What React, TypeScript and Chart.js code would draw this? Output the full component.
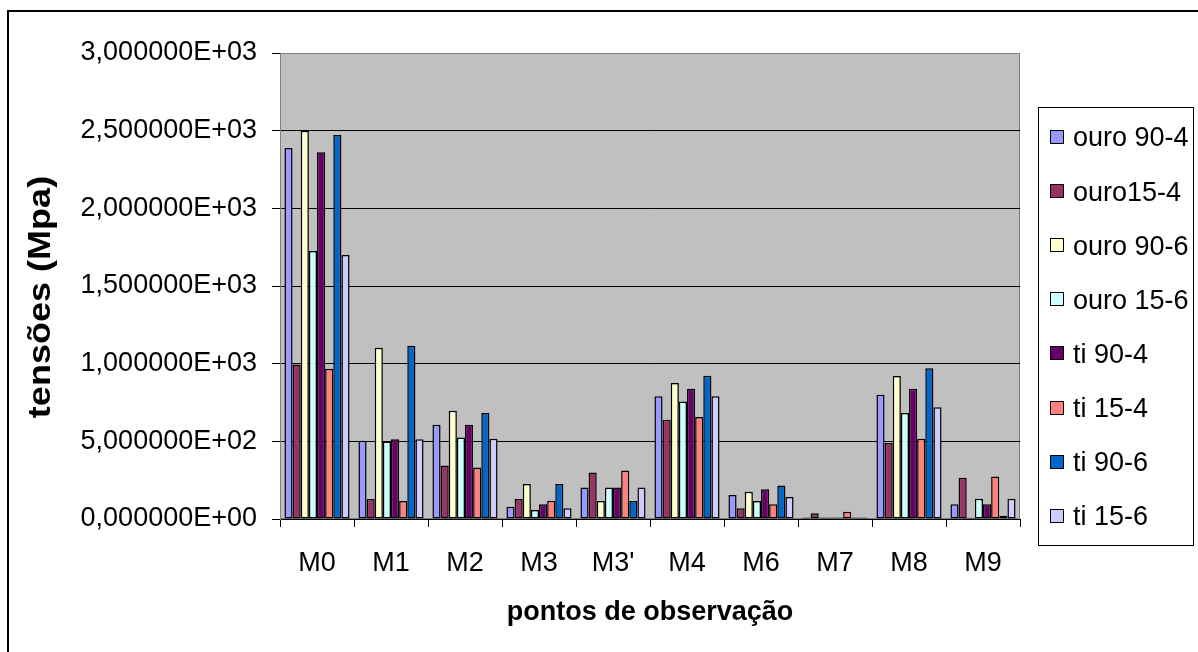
import React, { useEffect, useRef } from "react";
import { Chart, registerables } from "chart.js";

Chart.register(...registerables);

const categories = ["M0", "M1", "M2", "M3", "M3'", "M4", "M6", "M7", "M8", "M9"];

const ouro904 = [2388, 503, 607, 79, 202, 790, 155, 10, 800, 95];
const ouro154 = [994, 129, 344, 129, 299, 639, 69, 37, 489, 265];
const ouro906 = [2500, 1102, 697, 226, 116, 876, 176, 10, 921, 8];
const ouro156 = [1726, 499, 525, 58, 202, 757, 116, 10, 682, 131];
const ti904 = [2361, 514, 607, 95, 202, 839, 191, 10, 839, 95];
const ti154 = [968, 116, 331, 118, 312, 656, 95, 47, 516, 273];
const ti906 = [2472, 1115, 682, 226, 116, 923, 215, 10, 970, 21];
const ti156 = [1700, 514, 516, 69, 202, 790, 142, 10, 719, 131];

const seriesLabels = ["ouro 90-4", "ouro15-4", "ouro 90-6", "ouro 15-6", "ti 90-4", "ti 15-4", "ti 90-6", "ti 15-6"];
const seriesValues = [ouro904, ouro154, ouro906, ouro156, ti904, ti154, ti906, ti156];
const seriesColors = ["#9999FF", "#993366", "#FFFFCC", "#CCFFFF", "#660066", "#FF8080", "#0066CC", "#CCCCFF"];

const yMin = 0;
const yMax = 3000;
const yStep = 500;

const xTitle = "pontos de observação";
const yTitle = "tensões (Mpa)";

const FONT = "'Liberation Sans', Arial, Helvetica, sans-serif";

function sciLabel(v: number): string {
  const s = Number(v).toExponential(6);
  const [mant, exp] = s.split("e");
  const sign = exp.startsWith("-") ? "-" : "+";
  const digits = exp.replace(/[+-]/, "").padStart(2, "0");
  return mant.replace(".", ",") + "E" + sign + digits;
}

const framePlugin = {
  id: "framePlugin",
  beforeDraw(chart: any) {
    const { ctx, chartArea } = chart;
    ctx.save();
    ctx.fillStyle = "#FFFFFF";
    ctx.fillRect(0, 0, chart.width, chart.height);
    // outer frame (top & left visible)
    ctx.strokeStyle = "#000000";
    ctx.lineWidth = 2;
    ctx.beginPath();
    ctx.moveTo(8, chart.height + 5);
    ctx.lineTo(8, 11);
    ctx.lineTo(chart.width + 5, 11);
    ctx.stroke();
    // plot area
    ctx.fillStyle = "#C0C0C0";
    ctx.fillRect(chartArea.left, chartArea.top, chartArea.right - chartArea.left, chartArea.bottom - chartArea.top);
    ctx.strokeStyle = "#808080";
    ctx.lineWidth = 1;
    ctx.strokeRect(chartArea.left + 0.5, chartArea.top + 0.5, chartArea.right - chartArea.left - 1, chartArea.bottom - chartArea.top - 1);
    ctx.restore();
  },
  afterDraw(chart: any) {
    const { ctx } = chart;
    ctx.save();
    // y axis title
    ctx.translate(41, 297);
    ctx.rotate(-Math.PI / 2);
    ctx.scale(1.06, 0.92);
    ctx.font = `bold 34px ${FONT}`;
    ctx.textAlign = "center";
    ctx.textBaseline = "middle";
    ctx.fillStyle = "#000000";
    ctx.fillText(yTitle, 0, 0);
    ctx.restore();

    // legend
    const boxL = 1038, boxT = 107, boxR = 1193, boxB = 545;
    ctx.save();
    ctx.strokeStyle = "#000000";
    ctx.lineWidth = 1;
    ctx.strokeRect(boxL + 0.5, boxT + 0.5, boxR - boxL, boxB - boxT);
    ctx.font = `27px ${FONT}`;
    ctx.textBaseline = "middle";
    ctx.textAlign = "left";
    chart.data.datasets.forEach((ds: any, i: number) => {
      const cy = 137 + i * 54.1;
      ctx.fillStyle = ds.backgroundColor;
      ctx.fillRect(1050, Math.round(cy - 7), 14, 14);
      ctx.strokeStyle = "#000000";
      ctx.strokeRect(1050.5, Math.round(cy - 7) + 0.5, 13, 13);
      ctx.fillStyle = "#000000";
      ctx.fillText(ds.label, 1073, cy + 2);
    });
    ctx.restore();
  },
};

export default function App() {
  const canvasRef = useRef<HTMLCanvasElement | null>(null);

  useEffect(() => {
    if (!canvasRef.current) return;
    const chart = new Chart(canvasRef.current, {
      type: "bar",
      data: {
        labels: categories,
        datasets: seriesLabels.map((label, i) => ({
          label,
          data: seriesValues[i],
          backgroundColor: seriesColors[i],
          borderColor: "#000000",
          borderWidth: 1.5,
          borderSkipped: false,
          categoryPercentage: 0.88,
          barPercentage: 1.0,
        })),
      },
      options: {
        animation: false,
        responsive: false,
        events: [],
        layout: { padding: { left: 8, top: 53, right: 178, bottom: 0 } },
        plugins: {
          legend: { display: false },
          tooltip: { enabled: false },
        },
        scales: {
          x: {
            afterFit: (scale: any) => {
              scale.height = 133;
            },
            grid: {
              offset: true,
              drawOnChartArea: false,
              drawTicks: true,
              tickLength: 8,
              color: "#000000",
            },
            border: { display: true, color: "#000000", width: 1 },
            ticks: {
              color: "#000000",
              font: { family: FONT, size: 27 },
              padding: 20,
              maxRotation: 0,
            },
            title: {
              display: true,
              text: xTitle,
              color: "#000000",
              font: { family: FONT, size: 27, weight: "bold" },
              padding: { top: 0, bottom: 23 },
            },
          },
          y: {
            min: yMin,
            max: yMax,
            afterFit: (scale: any) => {
              scale.width = 272;
            },
            grid: {
              color: (ctx: any) => (ctx.tick && ctx.tick.value === yMax ? "#808080" : "#000000"),
              tickColor: "#000000",
              drawTicks: true,
              tickLength: 8,
            },
            border: { display: true, color: "#808080", width: 1 },
            ticks: {
              stepSize: yStep,
              color: "#000000",
              font: { family: FONT, size: 27 },
              padding: 15,
              callback: (v: any) => sciLabel(Number(v)),
            },
            title: { display: false },
          },
        },
      },
      plugins: [framePlugin],
    });
    return () => chart.destroy();
  }, []);

  return (
    <div style={{ position: "fixed", left: 0, top: 0, width: 1198, height: 652, background: "#fff" }}>
      <canvas ref={canvasRef} width={1198} height={652} style={{ display: "block", width: 1198, height: 652 }} />
    </div>
  );
}
